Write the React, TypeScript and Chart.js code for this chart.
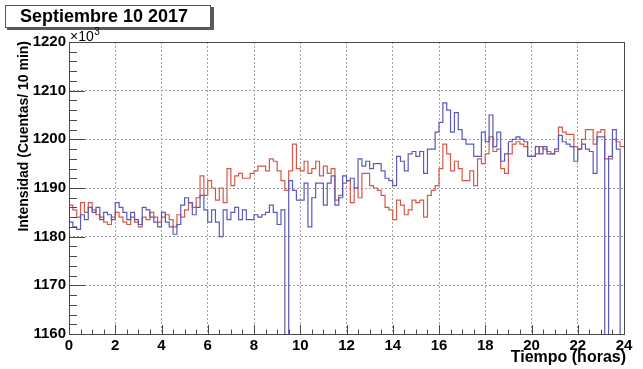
import React, { useEffect, useRef } from "react";
import { Chart, registerables } from "chart.js";

Chart.register(...registerables);

const TITLE = "Septiembre 10 2017";
const X_TITLE = "Tiempo (horas)";
const Y_TITLE = "Intensidad (Cuentas/ 10 min)";
const Y_EXPONENT = "×10";
const BIN_MINUTES = 10;
const X_TICKS = [0, 2, 4, 6, 8, 10, 12, 14, 16, 18, 20, 22, 24];
const Y_TICKS = [1160, 1170, 1180, 1190, 1200, 1210, 1220];
const X_MINOR_STEP = 0.5;
const Y_MINOR_STEP = 2;

// counts (x10^3) per 10-minute bin
const RED = [
  1186.5, 1185.5, 1184, 1187, 1185, 1187, 1185.5, 1184.5, 1184, 1183, 1182.5, 1184,
  1185, 1184, 1183, 1182.5, 1184, 1183, 1182, 1184, 1183.5, 1185, 1184, 1183,
  1184, 1184.5, 1183.5, 1182, 1184.5, 1184, 1185.5, 1187, 1186, 1188, 1192.5, 1188.5,
  1191.5, 1190, 1187.5, 1190, 1187, 1194, 1190.5, 1192.5, 1193, 1192, 1192, 1193,
  1193.5, 1194.5, 1194.5, 1193.5, 1196, 1195.5, 1193.5, 1191.5, 1189.5, 1193.5, 1199, 1194,
  1193.5, 1195.5, 1193, 1194, 1195.5, 1192.5, 1194.5, 1193, 1194, 1187.5, 1188.5, 1191,
  1191.5, 1187, 1190, 1188, 1193, 1193, 1190.5, 1190, 1189.5, 1188.5, 1186, 1185.5,
  1183.5, 1187.5, 1186.5, 1184.5, 1185.5, 1187.5, 1187, 1187.5, 1184, 1188.5, 1189.5, 1190.5,
  1194, 1199, 1197, 1193.5, 1195.5, 1194, 1191.5, 1191.5, 1193.5, 1190.5, 1196, 1195,
  1197, 1200.5, 1197.5, 1198, 1194, 1193, 1197, 1199, 1199.5, 1199, 1198.5, 1196.5,
  1196.5, 1197, 1198.5, 1198, 1197.5, 1197, 1197.5, 1202.5, 1201.5, 1201, 1201, 1198.5,
  1198, 1200, 1202, 1202, 1199, 1201.5, 1202, 1196, 1196, 1200, 1199.5, 1198.5,
];

const BLUE = [
  1183, 1182, 1181.5, 1184.5, 1183.5, 1186, 1185, 1186, 1183.5, 1185, 1184.5, 1183.5,
  1187, 1186, 1185, 1183.5, 1185, 1183.5, 1182.5, 1186, 1185.5, 1184, 1183, 1182,
  1185, 1183, 1182, 1180.5, 1182.5, 1186.5, 1188, 1187, 1184.5, 1186, 1188.5, 1185.5,
  1183, 1185.5, 1183, 1180, 1185.5, 1183.5, 1185, 1186, 1183.5, 1185.5, 1183.5, 1183.5,
  1184.5, 1184, 1184.5, 1185, 1186.5, 1185, 1182.5, 1185.5, 0, 1191.5, 1189.5, 1187.5,
  1187.5, 1191, 1182, 1188, 1191, 1191, 1186.5, 1191, 1192.5, 1186.5, 1188, 1192.5,
  1191.5, 1192, 1190, 1196, 1194.5, 1195.5, 1194, 1195, 1195, 1193.5, 1192, 1191.5,
  1190.5, 1196.5, 1195.5, 1193.5, 1197, 1197.5, 1196.5, 1197.5, 1193, 1198, 1198, 1201.5,
  1203.5, 1207.5, 1206, 1201.5, 1205.5, 1202, 1200, 1199, 1199, 1196.5, 1196.5, 1201.5,
  1199.5, 1205, 1198.5, 1201.5, 1195.5, 1197, 1199.5, 1200, 1200.5, 1200, 1199.5, 1196.5,
  1196.5, 1198.5, 1197, 1198.5, 1197, 1197, 1198, 1200.8, 1199.5, 1199, 1198.5, 1195.5,
  1198, 1199, 1198, 1197.5, 1193, 1200.5, 1200.5, 0, 1196.5, 1202, 1198, 0,
];

const RED_COLOR = "#d4584a";
const BLUE_COLOR = "#5a5ab8";
const FONT = "'Liberation Sans', Arial, Helvetica, sans-serif";

function toSteps(vals: number[]) {
  const pts = vals.map((v, i) => ({ x: (i * BIN_MINUTES) / 60, y: v }));
  pts.push({ x: (vals.length * BIN_MINUTES) / 60, y: vals[vals.length - 1] });
  return pts;
}

const overlay = {
  id: "overlay",
  afterDraw(chart: any) {
    const { ctx, chartArea: a, scales } = chart;
    const xs = scales.x;
    const ys = scales.y;
    ctx.save();
    // frame
    ctx.strokeStyle = "#4a4a4a";
    ctx.lineWidth = 1;
    ctx.setLineDash([]);
    ctx.strokeRect(Math.round(a.left) + 0.5, Math.round(a.top) + 0.5, Math.round(a.right - a.left), Math.round(a.bottom - a.top));
    // inner ticks
    ctx.beginPath();
    for (let h = xs.min; h <= xs.max + 1e-9; h += X_MINOR_STEP) {
      const px = Math.round(xs.getPixelForValue(h)) + 0.5;
      const major = X_TICKS.includes(Math.round(h * 100) / 100);
      const len = major ? 9 : 4.5;
      ctx.moveTo(px, a.bottom);
      ctx.lineTo(px, a.bottom - len);
    }
    for (let v = ys.min; v <= ys.max + 1e-9; v += Y_MINOR_STEP) {
      const py = Math.round(ys.getPixelForValue(v)) + 0.5;
      const major = Y_TICKS.includes(v);
      const len = major ? 16 : 8;
      ctx.moveTo(a.left, py);
      ctx.lineTo(a.left + len, py);
    }
    ctx.stroke();

    // title box
    ctx.fillStyle = "#5a5a5a";
    ctx.fillRect(7, 7, 207, 23);
    ctx.fillStyle = "#ffffff";
    ctx.fillRect(5, 5, 206, 23);
    ctx.strokeStyle = "#555";
    ctx.strokeRect(5.5, 5.5, 205, 22);
    ctx.fillStyle = "#000";
    ctx.font = `bold 18px ${FONT}`;
    ctx.textAlign = "center";
    ctx.textBaseline = "middle";
    ctx.fillText(TITLE, 104, 17.5);

    // exponent
    ctx.font = `14px ${FONT}`;
    ctx.textAlign = "left";
    ctx.textBaseline = "alphabetic";
    ctx.fillText(Y_EXPONENT, a.left + 1, 41);
    const w = ctx.measureText(Y_EXPONENT).width;
    ctx.font = `10px ${FONT}`;
    ctx.fillText("3", a.left + 1 + w + 0.5, 35);

    // axis titles
    ctx.font = `bold 16px ${FONT}`;
    ctx.textAlign = "right";
    ctx.textBaseline = "alphabetic";
    ctx.fillText(X_TITLE, a.right + 2, 362);

    ctx.font = `bold 14px ${FONT}`;
    ctx.translate(28, a.top - 1);
    ctx.rotate(-Math.PI / 2);
    ctx.fillText(Y_TITLE, 0, 0);
    ctx.restore();
  },
};

export default function App() {
  const ref = useRef<HTMLCanvasElement | null>(null);
  useEffect(() => {
    if (!ref.current) return;
    Chart.defaults.font.family = FONT;
    const chart = new Chart(ref.current, {
      type: "line",
      data: {
        datasets: [
          {
            label: "blue",
            data: toSteps(BLUE),
            borderColor: BLUE_COLOR,
            borderWidth: 1.2,
            pointRadius: 0,
            stepped: "before",
            fill: false,
          },
          {
            label: "red",
            data: toSteps(RED),
            borderColor: RED_COLOR,
            borderWidth: 1.2,
            pointRadius: 0,
            stepped: "before",
            fill: false,
          },
        ],
      },
      options: {
        animation: false,
        responsive: false,
        devicePixelRatio: 1,
        layout: { padding: { left: 0, right: 19, top: 42, bottom: 0 } },
        plugins: { legend: { display: false }, tooltip: { enabled: false }, title: { display: false } },
        scales: {
          x: {
            type: "linear",
            min: 0,
            max: 24,
            afterBuildTicks: (s: any) => {
              s.ticks = X_TICKS.map((v) => ({ value: v }));
            },
            afterFit: (s: any) => {
              s.height = 35;
            },
            ticks: {
              callback: (v: any) => String(v),
              font: { size: 15, weight: "bold" },
              color: "#000",
              padding: 3,
              maxRotation: 0,
              autoSkip: false,
            },
            grid: { color: "#a0a0a0", drawTicks: false, lineWidth: 1 },
            border: { display: false, dash: [2, 2] },
          },
          y: {
            type: "linear",
            min: 1160,
            max: 1220,
            afterBuildTicks: (s: any) => {
              s.ticks = Y_TICKS.map((v) => ({ value: v }));
            },
            afterFit: (s: any) => {
              s.width = 69;
            },
            ticks: {
              callback: (v: any) => String(v),
              font: { size: 15, weight: "bold" },
              color: "#000",
              padding: 3,
              autoSkip: false,
            },
            grid: { color: "#a0a0a0", drawTicks: false, lineWidth: 1 },
            border: { display: false, dash: [2, 2] },
          },
        },
      },
      plugins: [overlay],
    });
    return () => chart.destroy();
  }, []);
  return (
    <div style={{ position: "absolute", left: 0, top: 0, width: 643, height: 369, background: "#fff" }}>
      <canvas ref={ref} width={643} height={369} style={{ width: 643, height: 369, display: "block" }} />
    </div>
  );
}
